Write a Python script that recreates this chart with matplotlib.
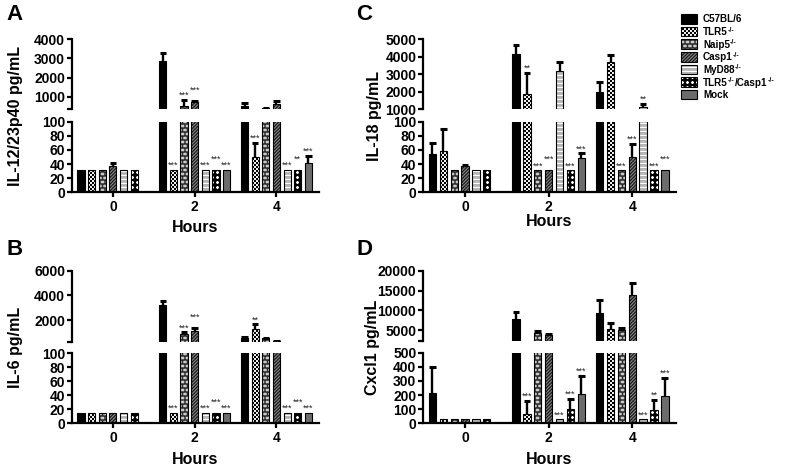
import re
import numpy as np
import matplotlib
matplotlib.use("Agg")
import matplotlib.pyplot as plt
import matplotlib.hatch as mhatch
from matplotlib.path import Path
from matplotlib.patches import Rectangle

# ------------------------------------------------------------------ data
hours = ["0", "2", "4"]
strains = ["C57BL/6", "TLR5$^{-/-}$", "Naip5$^{-/-}$", "Casp1$^{-/-}$",
           "MyD88$^{-/-}$", "TLR5$^{-/-}$/Casp1$^{-/-}$", "Mock"]
nan = np.nan

# rows = strain, columns = hour (0, 2, 4)
il12_mean = [[32, 2840, 520], [32, 32, 50], [32, 500, 420], [37, 720, 640],
             [32, 32, 32], [32, 32, 32], [nan, 32, 41]]
il12_err = [[0, 430, 140], [0, 0, 20], [0, 320, 10], [5, 70, 140],
            [0, 0, 0], [0, 0, 0], [nan, 0, 10]]
il12_sig = [["", "", ""], ["", "***", "***"], ["", "***", ""], ["", "***", ""],
            ["", "***", "***"], ["", "***", "**"], ["", "***", "***"]]

il6_mean = [[15, 3250, 560], [15, 15, 1250], [15, 900, 500], [15, 1100, 300],
            [15, 15, 15], [15, 15, 15], [nan, 15, 15]]
il6_err = [[0, 280, 80], [0, 0, 400], [0, 100, 60], [0, 250, 20],
           [0, 0, 0], [0, 0, 0], [nan, 0, 0]]
il6_sig = [["", "", ""], ["", "***", "**"], ["", "***", ""], ["", "***", ""],
           ["", "***", "***"], ["", "***", "***"], ["", "***", "***"]]

il18_mean = [[54, 4150, 2000], [58, 1880, 3720], [31, 31, 31], [37, 31, 50],
             [31, 3190, 1150], [31, 31, 31], [nan, 48, 31]]
il18_err = [[16, 550, 570], [31, 1220, 380], [0, 0, 0], [1.5, 0, 18],
            [0, 500, 150], [0, 0, 0], [nan, 7, 0]]
il18_sig = [["", "", ""], ["", "**", ""], ["", "***", "***"], ["", "***", "***"],
            ["", "", "**"], ["", "***", "***"], ["", "***", "***"]]

cxcl1_mean = [[212, 7900, 9300], [28, 64, 5200], [28, 4300, 5000], [28, 3750, 13750],
              [28, 28, 28], [28, 100, 95], [nan, 205, 195]]
cxcl1_err = [[189, 1650, 3400], [0, 94, 1500], [0, 400, 580], [0, 250, 3150],
             [0, 0, 0], [0, 73, 70], [nan, 130, 125]]
cxcl1_sig = [["", "", ""], ["", "***", ""], ["", "", ""], ["", "", ""],
             ["", "***", "***"], ["", "***", "**"], ["", "***", "***"]]

panel_letters = ["A", "B", "C", "D"]
ylabels = ["IL-12/23p40 pg/mL", "IL-6 pg/mL", "IL-18 pg/mL", "Cxcl1 pg/mL"]
lower_ticks = [[0, 20, 40, 60, 80, 100], [0, 20, 40, 60, 80, 100],
               [0, 20, 40, 60, 80, 100], [0, 100, 200, 300, 400, 500]]
upper_ticks = [[1000, 2000, 3000, 4000], [2000, 4000, 6000],
               [1000, 2000, 3000, 4000, 5000], [5000, 10000, 15000, 20000]]
upper_floor = [337, 240, 1000, 2250]

# ------------------------------------------------------------------ custom hatches
plt.rcParams["hatch.linewidth"] = 0.05


def _poly_path(polys):
    return Path.make_compound_path_from_polys(np.asarray(polys, float))


def _rect(x0, y0, x1, y1):
    return [(x0, y0), (x1, y0), (x1, y1), (x0, y1)]


class _Custom(mhatch.HatchPatternBase):
    char = "?"

    def __init__(self, hatch, density):
        self.path = self.build() if (hatch and self.char in hatch) else None
        self.num_vertices = 0 if self.path is None else len(self.path.vertices)

    def set_vertices_and_codes(self, vertices, codes):
        vertices[:] = self.path.vertices
        codes[:] = self.path.codes


class Checker(_Custom):
    char = "o"

    def build(self):
        n = 50
        return _poly_path([_rect(i / n, j / n, (i + 1) / n, (j + 1) / n)
                           for i in range(n) for j in range(n) if (i + j) % 2 == 0])


class Diamonds(_Custom):
    char = "*"

    def build(self):
        m, h = 20, 0.62 / 20
        polys = []
        for i in range(m + 1):
            for j in range(m + 1):
                cx, cy = i / m, j / m
                polys.append([(cx - h, cy), (cx, cy - h), (cx + h, cy), (cx, cy + h)])
        return _poly_path(polys)


class Brick(_Custom):
    char = "O"

    def build(self):
        r, q, t = 25, 20, 0.014
        polys = [_rect(0, k / r - t / 2, 1, k / r + t / 2) for k in range(r + 1)]
        for k in range(r):
            for j in range(q + 1):
                x = (j + 0.5 * (k % 2)) / q
                polys.append(_rect(x - t / 2, k / r, x + t / 2, (k + 1) / r))
        return _poly_path(polys)


class Diagonal(_Custom):
    char = "/"

    def build(self):
        m = 30
        w = 0.5 / m
        return _poly_path([[(c, 0), (c + w, 0), (c + w + 1, 1), (c + 1, 1)]
                           for c in np.arange(-m - 1, m + 1) / m])


class Bands(_Custom):
    char = "-"

    def build(self):
        m, w = 25, 0.011
        return _poly_path([_rect(0, k / m, 1, k / m + w) for k in range(m)])


mhatch._hatch_types = [Checker, Diamonds, Brick, Diagonal, Bands]

styles = [
    dict(face="black", hatch=None, hc="black"),
    dict(face="white", hatch="o", hc="black"),
    dict(face="#c9c9c9", hatch="O", hc="#2a2a2a"),
    dict(face="#8a8a8a", hatch="/", hc="#151515"),
    dict(face="#b4b4b4", hatch="-", hc="white"),
    dict(face="white", hatch="*", hc="black"),
    dict(face="#6c6c6c", hatch=None, hc="#6c6c6c"),
]

# ------------------------------------------------------------------ style
plt.rcParams["font.family"] = ["Liberation Sans", "DejaVu Sans"]
plt.rcParams["font.weight"] = "bold"

W, H = 800, 470
fig = plt.figure(figsize=(8, 4.7), dpi=100)

# pixel layout: (left, right, upper_top, upper_bottom, lower_top, lower_bottom)
layout = [
    (72, 319, 39.3, 109.3, 121.7, 192.3),
    (72, 319, 270.7, 341.7, 353.3, 423.3),
    (423.3, 675.7, 39.3, 109.3, 121.7, 192.3),
    (423.3, 675.7, 270.7, 341.0, 352.7, 423.3),
]
letter_pos = [(6, 4), (6, 239), (356, 4), (356, 239)]
ylabel_x = [15.5, 15.5, 374, 372]
hours_y = [232, 464, 226, 464]

slot, bw, cap = 0.13, 0.088, 0.04
xg = np.arange(len(hours))

all_data = [(il12_mean, il12_err, il12_sig), (il6_mean, il6_err, il6_sig),
            (il18_mean, il18_err, il18_sig), (cxcl1_mean, cxcl1_err, cxcl1_sig)]


def fr(px_left, px_right, px_top, px_bottom):
    return [px_left / W, 1 - px_bottom / H, (px_right - px_left) / W, (px_bottom - px_top) / H]


for p, (mean, err, sig) in enumerate(all_data):
    L, R, ut, ub, lt, lb = layout[p]
    up = fig.add_axes(fr(L, R, ut, ub))
    lo = fig.add_axes(fr(L, R, lt, lb))
    for ax in (up, lo):
        for i in range(len(strains)):
            st = styles[i]
            xs = xg + (i - 3) * slot
            m = np.array(mean[i], float)
            e = np.array(err[i], float)
            ax.bar(xs, m, bw, color=st["face"], edgecolor=st["hc"], hatch=st["hatch"],
                   linewidth=0, zorder=2)
            ax.bar(xs, m, bw, fill=False, edgecolor="black", linewidth=0.8, zorder=3)
            ok = np.nan_to_num(e) > 0
            ax.vlines(xs[ok], m[ok], m[ok] + e[ok], color="black", lw=1.7, zorder=4)
            ax.hlines(m[ok] + e[ok], xs[ok] - cap, xs[ok] + cap, color="black", lw=2.2, zorder=4)
        ax.set_xlim(-0.5, 2.52)
        ax.spines[["top", "right"]].set_visible(False)
        ax.spines["left"].set_linewidth(1.6)
        ax.tick_params(axis="y", which="both", direction="out", length=3.5, width=1.6,
                       labelsize=10, pad=1.5)
    lo.set_ylim(lower_ticks[p][0], lower_ticks[p][-1])
    lo.set_yticks(lower_ticks[p])
    up.set_ylim(upper_floor[p], upper_ticks[p][-1])
    up.set_yticks(upper_ticks[p])
    if upper_floor[p] not in upper_ticks[p]:
        up.set_yticks([upper_floor[p]], minor=True)
    up.spines["bottom"].set_visible(False)
    up.tick_params(axis="x", which="both", bottom=False, labelbottom=False)
    lo.spines["bottom"].set_linewidth(1.6)
    lo.set_xticks(xg, hours)
    lo.tick_params(axis="x", direction="out", length=3.5, width=1.6, labelsize=10, pad=2)

    # significance stars (staggered when neighbours sit at the same height)
    for j in range(len(hours)):
        prev = None
        for i in range(len(strains)):
            if not sig[i][j]:
                continue
            top = mean[i][j] + err[i][j]
            ax = up if top > lower_ticks[p][-1] else lo
            ypx = ax.transData.transform((0, top))[1]
            lift = 0.0
            if prev is not None and prev[0] == i - 1 and abs(prev[1] - ypx) < 5 and prev[2] == 0:
                lift = 4.5
            prev = (i, ypx, lift)
            ax.annotate(sig[i][j], (xg[j] + (i - 3) * slot, top), xytext=(0, 1.5 + lift),
                        textcoords="offset points", ha="center", va="baseline",
                        fontsize=6.5, fontweight="normal", color="#222222",
                        annotation_clip=False, zorder=5)

    fig.text(ylabel_x[p] / W, 1 - (ut + lb) / 2 / H, ylabels[p], rotation=90,
             ha="center", va="center", fontsize=11.5, fontweight="bold")
    fig.text((L + R) / 2 / W, 1 - hours_y[p] / H, "Hours", ha="center", va="baseline",
             fontsize=11.5, fontweight="bold")
    fig.text(letter_pos[p][0] / W, 1 - letter_pos[p][1] / H, panel_letters[p],
             ha="left", va="top", fontsize=16, fontweight="bold")

# legend (swatch + label rows; "-/-" drawn as a raised small text)
renderer = fig.canvas.get_renderer()
leg_x, leg_y0, leg_dy, sw_w, sw_h = 681, 19, 12.6, 16, 9.5
for i, (lab, st) in enumerate(zip(strains, styles)):
    yc = leg_y0 + i * leg_dy
    box = ((leg_x) / W, 1 - (yc + sw_h / 2) / H)
    fig.add_artist(Rectangle(box, sw_w / W, sw_h / H, transform=fig.transFigure,
                             facecolor=st["face"], edgecolor=st["hc"], hatch=st["hatch"], lw=0))
    fig.add_artist(Rectangle(box, sw_w / W, sw_h / H, transform=fig.transFigure,
                             facecolor="none", edgecolor="black", lw=0.8))
    xpos = leg_x + 22
    for k, piece in enumerate(re.split(r"\$\^\{(.*?)\}\$", lab)):
        if not piece:
            continue
        sup = k % 2 == 1
        t = fig.text(xpos / W, 1 - (yc + (0.0 if sup else 3.5)) / H, piece,
                     ha="left", va="baseline", fontsize=5.0 if sup else 7.1,
                     fontweight="bold")
        xpos += t.get_window_extent(renderer).width + (0.3 if sup else 0.2)

fig.savefig("out.png", dpi=100)
